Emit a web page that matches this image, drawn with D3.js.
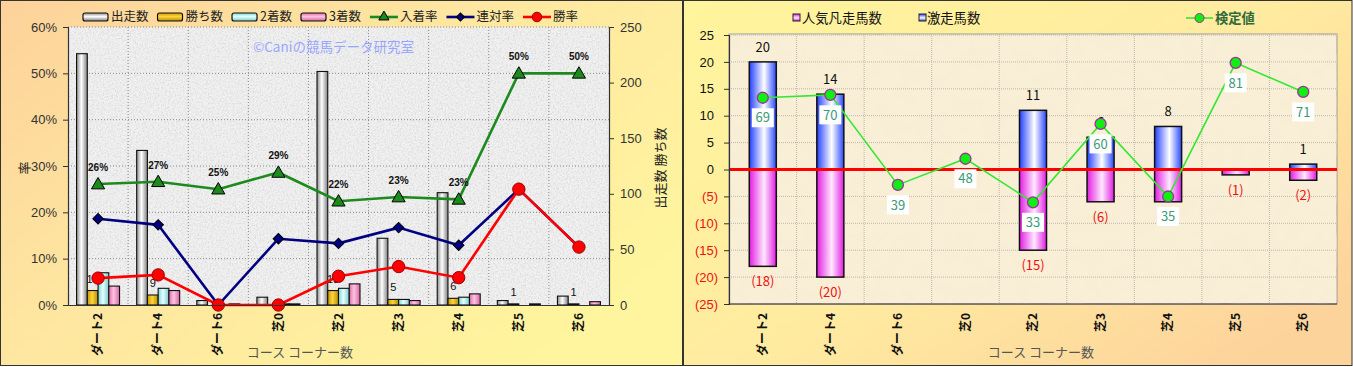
<!DOCTYPE html>
<html>
<head>
<meta charset="utf-8">
<script src="https://cdn.jsdelivr.net/npm/d3@7"></script>
<style>
body { margin: 0; background: #fff; }
svg { display: block; font-family: "Noto Sans CJK JP", "Noto Sans", sans-serif; }
</style>
</head>
<body>
<svg id="chart" width="1353" height="367"></svg>
<script>
// ---- data ----
var categories = ["ダート2", "ダート4", "ダート6", "芝0", "芝2", "芝3", "芝4", "芝5", "芝6"];

// left chart: counts
var runners = [226, 139, 4, 7, 210, 60, 101, 4, 8];
var wins    = [13, 9, 0, 0, 13, 5, 6, 1, 1];
var seconds = [29, 15, 0, 1, 15, 5, 7, 0, 0];
var thirds  = [17, 13, 1, 1, 19, 4, 10, 1, 3];
// left chart: rates (%)
var placeRate  = [26.1, 26.6, 25.0, 28.6, 22.4, 23.3, 22.8, 50.0, 50.0];
var rentaiRate = [18.6, 17.3, 0, 14.3, 13.3, 16.7, 12.9, 25.0, 12.5];
var winRate    = [5.8, 6.5, 0, 0, 6.2, 8.3, 5.9, 25.0, 12.5];
var pctTicks = [0, 10, 20, 30, 40, 50, 60];
var cntTicks = [0, 50, 100, 150, 200, 250];

// right chart
var hotRunners  = [20, 14, 0, 0, 11, 6, 8, 0, 1];   // 激走馬数
var poorRunners = [18, 20, 0, 0, 15, 6, 6, 1, 2];   // 人気凡走馬数 (drawn below zero)
var testValues  = [69, 70, 39, 48, 33, 60, 35, 81, 71]; // 検定値
var diffTicks = [-25, -20, -15, -10, -5, 0, 5, 10, 15, 20, 25];

var svg = d3.select("#chart");
var defs = svg.append("defs");

function grad(id, stops, vertical) {
  var g = defs.append("linearGradient").attr("id", id)
      .attr("x1", 0).attr("y1", 0)
      .attr("x2", vertical ? 0 : 1).attr("y2", vertical ? 1 : 0);
  stops.forEach(function(s) { g.append("stop").attr("offset", s[0]).attr("stop-color", s[1]); });
  return g;
}
// pair each value with its index, keep the non-zero ones
function nz(vals) {
  return vals.map(function(v, i) { return {v: v, i: i}; }).filter(function(d) { return d.v > 0; });
}

grad("panelL", [[0, "#fdd29a"], [0.45, "#fee6a0"], [1, "#fff59e"]]).attr("x2", 1).attr("y2", 0.7);
grad("panelR", [[0, "#fff59c"], [0.55, "#ffeba0"], [1, "#fdd39c"]]).attr("x2", 1).attr("y2", 0.8);

var barKeys = ["出走数", "勝ち数", "2着数", "3着数"];
var barColors = [
  [[0, "#8c8c8c"], [0.45, "#ffffff"], [1, "#7f7f7f"]],
  [[0, "#c79a00"], [0.45, "#ffd43a"], [1, "#b88b00"]],
  [[0, "#7fd6d6"], [0.45, "#e6ffff"], [1, "#76cccc"]],
  [[0, "#dd6eaa"], [0.45, "#ffc2e2"], [1, "#d466a2"]]
];
barColors.forEach(function(c, i) {
  grad("bar" + i, c);
  grad("barV" + i, c, true);
});
var hotStops = [[0, "#2340ff"], [0.55, "#ffffff"], [1, "#2a48ff"]];
var poorStops = [[0, "#e21de2"], [0.55, "#ffe8ff"], [1, "#e21de2"]];
grad("hot", hotStops); grad("hotV", hotStops, true);
grad("poor", poorStops); grad("poorV", poorStops, true);

// textures
var f1 = defs.append("filter").attr("id", "granite").attr("x", 0).attr("y", 0).attr("width", 1).attr("height", 1);
f1.append("feTurbulence").attr("type", "fractalNoise").attr("baseFrequency", 0.6).attr("numOctaves", 3).attr("seed", 4);
f1.append("feColorMatrix").attr("type", "matrix")
  .attr("values", "0 0 0 0 0.6  0 0 0 0 0.6  0 0 0 0 0.6  1.3 0 0 0 -0.52");
var f2 = defs.append("filter").attr("id", "parch").attr("x", 0).attr("y", 0).attr("width", 1).attr("height", 1);
f2.append("feTurbulence").attr("type", "fractalNoise").attr("baseFrequency", 0.06).attr("numOctaves", 4).attr("seed", 7);
f2.append("feColorMatrix").attr("type", "matrix")
  .attr("values", "0 0 0 0 0.93  0 0 0 0 0.84  0 0 0 0 0.66  1.4 0 0 0 -0.5");

// ================= LEFT CHART =================
var L = {left: 68, right: 609, top: 27, bottom: 305};
svg.append("rect").attr("x", 0.5).attr("y", 0.5).attr("width", 682).attr("height", 365)
    .attr("fill", "url(#panelL)").attr("stroke", "#333");

var x = d3.scaleBand().domain(categories).range([L.left, L.right]);
var yPct = d3.scaleLinear().domain([0, 60]).range([L.bottom, L.top]);
var yCnt = d3.scaleLinear().domain([0, 250]).range([L.bottom, L.top]);
var sub = d3.scaleBand().domain(barKeys).range([-21.5, 21.5]);
var cx = function(i) { return x(categories[i]) + x.bandwidth() / 2; };

var gL = svg.append("g");
gL.append("rect").attr("x", L.left).attr("y", L.top).attr("width", L.right - L.left).attr("height", L.bottom - L.top)
    .attr("fill", "#f1f1f1");
gL.append("rect").attr("x", L.left).attr("y", L.top).attr("width", L.right - L.left).attr("height", L.bottom - L.top)
    .attr("filter", "url(#granite)");

// grid
gL.selectAll(null).data(pctTicks.slice(1)).enter().append("line")
    .attr("x1", L.left).attr("x2", L.right)
    .attr("y1", function(d) { return yPct(d); }).attr("y2", function(d) { return yPct(d); })
    .attr("stroke", "#8a8a8a").attr("stroke-dasharray", "1,2");
gL.selectAll(null).data(categories.slice(1)).enter().append("line")
    .attr("x1", function(d) { return x(d); }).attr("x2", function(d) { return x(d); })
    .attr("y1", L.top).attr("y2", L.bottom)
    .attr("stroke", "#8a8a8a").attr("stroke-dasharray", "1,2");

// watermark
gL.append("text").attr("x", 253).attr("y", 52).attr("font-size", 13.5).attr("fill", "#99a6ff")
    .text("©Caniの競馬データ研究室");

// bars
var barSeries = [runners, wins, seconds, thirds];
barSeries.forEach(function(vals, k) {
  gL.selectAll(null).data(nz(vals)).enter().append("rect")
      .attr("x", function(d) { return cx(d.i) + sub(barKeys[k]); })
      .attr("width", sub.bandwidth())
      .attr("y", function(d) { return yCnt(d.v); })
      .attr("height", function(d) { return L.bottom - yCnt(d.v); })
      .attr("fill", "url(#bar" + k + ")").attr("stroke", "#111").attr("stroke-width", 1.1);
});

// win count labels
gL.selectAll(null).data(nz(wins)).enter().append("text")
    .attr("x", function(d) { return cx(d.i) + sub("勝ち数") + sub.bandwidth() / 2; })
    .attr("y", function(d) { return yCnt(d.v) - 8; })
    .attr("text-anchor", "middle").attr("font-size", 11).attr("fill", "#111")
    .attr("font-family", "Liberation Sans, sans-serif")
    .text(function(d) { return d.v; });

// rate lines
var lineL = d3.line().x(function(d, i) { return cx(i); }).y(function(d) { return yPct(d); });
var rateSeries = [
  {vals: placeRate, color: "#1d8a1d", sym: d3.symbolTriangle, size: 75, rot: 0, dy: 1, fill: "#1d8a1d", stroke: "#000"},
  {vals: rentaiRate, color: "#000080", sym: d3.symbolSquare, size: 55, rot: 45, dy: 0, fill: "#000080", stroke: "#000"},
  {vals: winRate, color: "#ff0000", sym: d3.symbolCircle, size: 120, rot: 0, dy: 0, fill: "#ff0000", stroke: "#900"}
];
rateSeries.forEach(function(s) {
  gL.append("path").attr("d", lineL(s.vals)).attr("fill", "none")
    .attr("stroke", s.color).attr("stroke-width", 2.6);
  gL.selectAll(null).data(s.vals).enter().append("path")
    .attr("transform", function(d, i) { return "translate(" + cx(i) + "," + (yPct(d) + s.dy) + ") rotate(" + s.rot + ")"; })
    .attr("d", d3.symbol().type(s.sym).size(s.size))
    .attr("fill", s.fill).attr("stroke", s.stroke).attr("stroke-width", 1);
});
// place-rate labels
gL.selectAll(null).data(placeRate).enter().append("text")
    .attr("x", function(d, i) { return cx(i); })
    .attr("y", function(d) { return yPct(d) - 13; })
    .attr("text-anchor", "middle").attr("font-size", 10).attr("font-weight", "bold")
    .attr("font-family", "Liberation Sans, sans-serif").attr("fill", "#111")
    .text(function(d) { return Math.round(d) + "%"; });

// axes
var axL = gL.append("g").attr("transform", "translate(" + L.left + ",0)")
    .call(d3.axisLeft(yPct).tickValues(pctTicks).tickSize(5).tickPadding(6).tickFormat(function(d) { return d + "%"; }));
var axR = gL.append("g").attr("transform", "translate(" + L.right + ",0)")
    .call(d3.axisRight(yCnt).tickValues(cntTicks).tickSize(5).tickPadding(6));
var axB = gL.append("g").attr("transform", "translate(0," + L.bottom + ")")
    .call(d3.axisBottom(x).tickSize(0).tickFormat(""));
[axL, axR, axB].forEach(function(a) {
  a.select(".domain").attr("stroke", "#333").attr("stroke-width", 1.2);
  a.selectAll(".tick line").attr("stroke", "#333");
  a.selectAll("text").attr("font-size", 13).attr("fill", "#333")
    .attr("font-family", "Liberation Sans, Arial, sans-serif");
});
gL.selectAll(null).data(categories).enter().append("text")
    .attr("transform", function(d, i) { return "translate(" + cx(i) + ",313) rotate(-90)"; })
    .attr("text-anchor", "end").attr("dy", "0.35em")
    .attr("font-size", 12).attr("font-weight", "bold").attr("fill", "#111")
    .text(function(d) { return d; });
gL.append("text").attr("x", 300).attr("y", 357).attr("text-anchor", "middle")
    .attr("font-size", 13).attr("fill", "#555").text("コース コーナー数");
gL.append("text").attr("transform", "translate(24,168) rotate(-90)").attr("text-anchor", "middle")
    .attr("dy", "0.35em").attr("font-size", 13).attr("fill", "#222").text("率");
gL.append("text").attr("transform", "translate(660,168) rotate(-90)").attr("text-anchor", "middle")
    .attr("dy", "0.35em").attr("font-size", 13).attr("fill", "#222").text("出走数  勝ち数");

// legend
var legL = [
  {label: "出走数", k: 0}, {label: "勝ち数", k: 1}, {label: "2着数", k: 2}, {label: "3着数", k: 3},
  {label: "入着率", s: rateSeries[0]}, {label: "連対率", s: rateSeries[1]}, {label: "勝率", s: rateSeries[2]}
];
var lx = 83, ly = 17;
legL.forEach(function(it) {
  if (it.s === undefined) {
    gL.append("rect").attr("x", lx).attr("y", ly - 4).attr("width", 25).attr("height", 8).attr("rx", 2)
      .attr("fill", "url(#barV" + it.k + ")").attr("stroke", "#111").attr("stroke-width", 1.2);
    lx += 28;
  } else {
    gL.append("line").attr("x1", lx).attr("x2", lx + 28).attr("y1", ly).attr("y2", ly)
      .attr("stroke", it.s.color).attr("stroke-width", 2.6);
    gL.append("path").attr("transform", "translate(" + (lx + 14) + "," + ly + ") rotate(" + it.s.rot + ")")
      .attr("d", d3.symbol().type(it.s.sym).size(it.s.size * 0.6))
      .attr("fill", it.s.fill).attr("stroke", it.s.stroke);
    lx += 30;
  }
  var t = gL.append("text").attr("x", lx).attr("y", ly).attr("dy", "0.35em")
      .attr("font-size", 12.5).attr("fill", "#222").text(it.label);
  lx += t.node().getComputedTextLength() + 9;
});

// ================= RIGHT CHART =================
var R = {left: 729, right: 1337, top: 35, bottom: 304};
svg.append("rect").attr("x", 683.5).attr("y", 0.5).attr("width", 668.5).attr("height", 365)
    .attr("fill", "url(#panelR)").attr("stroke", "#333");
var gR = svg.append("g");
var x2 = d3.scaleBand().domain(categories).range([R.left, R.right]);
var yD = d3.scaleLinear().domain([-25, 25]).range([R.bottom, R.top]);
var yT = d3.scaleLinear().domain([-2, 90.6]).range([R.bottom, R.top]);
var cx2 = function(i) { return x2(categories[i]) + x2.bandwidth() / 2; };
var bw = x2.bandwidth() * 0.4;

gR.append("rect").attr("x", R.left).attr("y", R.top - 1).attr("width", R.right - R.left).attr("height", R.bottom - R.top + 1)
    .attr("fill", "#f9eed6").attr("stroke", "#999");
gR.append("rect").attr("x", R.left).attr("y", R.top - 1).attr("width", R.right - R.left).attr("height", R.bottom - R.top + 1)
    .attr("filter", "url(#parch)");
gR.selectAll(null).data(diffTicks.slice(1)).enter().append("line")
    .attr("x1", R.left).attr("x2", R.right)
    .attr("y1", function(d) { return yD(d); }).attr("y2", function(d) { return yD(d); })
    .attr("stroke", "#bdb8ae").attr("stroke-dasharray", "1,1");
gR.selectAll(null).data(categories.slice(1)).enter().append("line")
    .attr("x1", function(d) { return x2(d); }).attr("x2", function(d) { return x2(d); })
    .attr("y1", R.top - 1).attr("y2", R.bottom)
    .attr("stroke", "#bdb8ae").attr("stroke-dasharray", "1,1");

// bars
gR.selectAll(null).data(nz(hotRunners)).enter().append("rect")
    .attr("x", function(d) { return cx2(d.i) - bw / 2; }).attr("width", bw)
    .attr("y", function(d) { return yD(d.v); }).attr("height", function(d) { return yD(0) - yD(d.v); })
    .attr("fill", "url(#hot)").attr("stroke", "#111").attr("stroke-width", 1.5);
gR.selectAll(null).data(nz(poorRunners)).enter().append("rect")
    .attr("x", function(d) { return cx2(d.i) - bw / 2; }).attr("width", bw)
    .attr("y", yD(0)).attr("height", function(d) { return yD(-d.v) - yD(0); })
    .attr("fill", "url(#poor)").attr("stroke", "#111").attr("stroke-width", 1.5);

// bar labels
gR.selectAll(null).data(nz(hotRunners)).enter().append("text")
    .attr("x", function(d) { return cx2(d.i); }).attr("y", function(d) { return yD(d.v) - 10; })
    .attr("text-anchor", "middle").attr("font-size", 13).attr("fill", "#111")
    .text(function(d) { return d.v; });
gR.selectAll(null).data(nz(poorRunners)).enter().append("text")
    .attr("x", function(d) { return cx2(d.i); }).attr("y", function(d) { return yD(-d.v) + 20; })
    .attr("text-anchor", "middle").attr("font-size", 13).attr("fill", "#ee1111")
    .text(function(d) { return "(" + d.v + ")"; });

// zero line
gR.append("line").attr("x1", R.left).attr("x2", R.right).attr("y1", yD(0)).attr("y2", yD(0))
    .attr("stroke", "#ff0000").attr("stroke-width", 3);

// test value line
gR.append("path").attr("fill", "none").attr("stroke", "#33e833").attr("stroke-width", 1.6)
    .attr("d", d3.line().x(function(d, i) { return cx2(i); }).y(function(d) { return yT(d); })(testValues));
var tl = gR.selectAll(null).data(testValues).enter().append("g")
    .attr("transform", function(d, i) { return "translate(" + cx2(i) + "," + (yT(d) + 20) + ")"; });
tl.append("rect").attr("x", -11).attr("y", -9.5).attr("width", 22).attr("height", 19).attr("fill", "#fff");
tl.append("text").attr("text-anchor", "middle").attr("dy", "0.36em").attr("font-size", 13)
    .attr("fill", "#3a9a78").text(function(d) { return d; });
gR.selectAll(null).data(testValues).enter().append("circle")
    .attr("cx", function(d, i) { return cx2(i); }).attr("cy", function(d) { return yT(d); }).attr("r", 5.5)
    .attr("fill", "#11ee11").attr("stroke", "#993399").attr("stroke-width", 1.3);

// axes
var axD = gR.append("g").attr("transform", "translate(" + R.left + ",0)")
    .call(d3.axisLeft(yD).tickValues(diffTicks).tickSize(5).tickPadding(10)
      .tickFormat(function(d) { return d < 0 ? "(" + (-d) + ")" : d; }));
axD.select(".domain").attr("stroke", "#333").attr("stroke-width", 1.2);
axD.selectAll(".tick line").attr("stroke", "#333");
axD.selectAll("text").attr("font-size", 13)
    .attr("fill", function(d) { return d < 0 ? "#ee1111" : "#111"; })
    .attr("dx", function(d) { return d < 0 ? 4 : 0; });
gR.append("line").attr("x1", R.left).attr("x2", R.right).attr("y1", R.bottom).attr("y2", R.bottom)
    .attr("stroke", "#333").attr("stroke-width", 1.2);
gR.selectAll(null).data(categories).enter().append("text")
    .attr("transform", function(d, i) { return "translate(" + cx2(i) + ",313) rotate(-90)"; })
    .attr("text-anchor", "end").attr("dy", "0.35em")
    .attr("font-size", 12).attr("font-weight", "bold").attr("fill", "#111")
    .text(function(d) { return d; });
gR.append("text").attr("x", 1041).attr("y", 357).attr("text-anchor", "middle")
    .attr("font-size", 13).attr("fill", "#555").text("コース コーナー数");

// legend
gR.append("rect").attr("x", 793).attr("y", 14).attr("width", 7).attr("height", 7)
    .attr("fill", "url(#poorV)").attr("stroke", "#222");
gR.append("text").attr("x", 802).attr("y", 18).attr("dy", "0.35em").attr("font-size", 13.3).attr("fill", "#111").text("人気凡走馬数");
gR.append("rect").attr("x", 919).attr("y", 14).attr("width", 7).attr("height", 7)
    .attr("fill", "url(#hotV)").attr("stroke", "#222");
gR.append("text").attr("x", 927).attr("y", 18).attr("dy", "0.35em").attr("font-size", 13.3).attr("fill", "#111").text("激走馬数");
gR.append("line").attr("x1", 1186).attr("x2", 1213).attr("y1", 18).attr("y2", 18).attr("stroke", "#33e833").attr("stroke-width", 1.6);
gR.append("circle").attr("cx", 1199.5).attr("cy", 18).attr("r", 4.5).attr("fill", "#11ee11").attr("stroke", "#993399");
gR.append("text").attr("x", 1215).attr("y", 18).attr("dy", "0.35em").attr("font-size", 13.3)
    .attr("font-weight", "bold").attr("fill", "#2f6b3a").text("検定値");
</script>
</body>
</html>
